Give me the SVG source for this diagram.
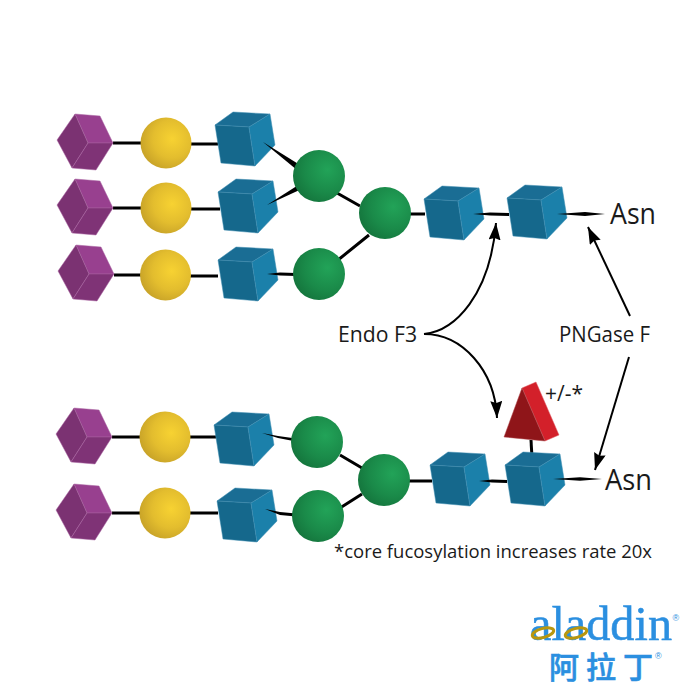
<svg xmlns="http://www.w3.org/2000/svg" width="700" height="700" viewBox="0 0 700 700">
<style>
.t{font-family:"Open Sans","Noto Sans","Liberation Sans",sans-serif;fill:#1a1a1a}
.bond{stroke:#000;stroke-width:3;fill:none}
.taper{fill:#000;stroke:none}
.arr{stroke:#000;stroke-width:2;fill:none;marker-end:url(#head)}
.edge{stroke-width:.5;stroke-linejoin:round}
</style>
<defs>
<marker id="head" markerUnits="userSpaceOnUse" markerWidth="20" markerHeight="14" refX="17" refY="6" orient="auto"><path d="M0 0L17 6L0 12L2 6Z" fill="#000"/></marker>
<radialGradient id="gold" cx=".62" cy=".42" r=".68"><stop offset="0" stop-color="#f7d232"/><stop offset=".55" stop-color="#e3bd2e"/><stop offset="1" stop-color="#c49f27"/></radialGradient>
<radialGradient id="green" cx=".66" cy=".38" r=".72"><stop offset="0" stop-color="#22a358"/><stop offset=".6" stop-color="#1a8a49"/><stop offset="1" stop-color="#14743c"/></radialGradient>
<g id="hex" class="edge">
<path d="M-13-29L12-27L25 0L0 0Z" fill="#98408f" stroke="#a862a0"/>
<path d="M-13-29L0 0L-16 25L-31-3Z" fill="#7b3272" stroke="#a862a0"/>
<path d="M0 0L25 0L8 27L-16 25Z" fill="#7f3376" stroke="#a862a0"/>
</g>
<g id="cube" class="edge">
<path d="M-34-2L-16-15L21-13L0 0Z" fill="#1a6d94" stroke="#3f8db0"/>
<path d="M-34-2L0 0L6 39L-28 36Z" fill="#15688c" stroke="#3f8db0"/>
<path d="M0 0L21-13L26 18L6 39Z" fill="#1b80aa" stroke="#3f8db0"/>
</g>
<circle id="gal" r="25.500" fill="url(#gold)"/>
<circle id="man" r="26" fill="url(#green)"/>
</defs>

<g id="connectors">
<path class="bond" d="M113 143H141M113 208H141M114 275H141M112 437H140M112 513H140"/>
<path class="bond" d="M188 144H218M188 209H220M188 276H218M188 437H216M188 513H218"/>
<path class="bond" d="M337 193L360 206M338 260L369 235M340 455L362 468M340 508L362 494"/>
<path class="bond" d="M408 214H425M407 481H432"/>
<path class="bond" d="M531 440L532 458"/>
</g>

<g id="nodes">
<g id="hex1"><use href="#hex" x="88" y="143"/></g>
<g id="hex2"><use href="#hex" x="88" y="208"/></g>
<g id="hex3"><use href="#hex" x="89" y="274"/></g>
<g id="hex4"><use href="#hex" x="87" y="437"/></g>
<g id="hex5"><use href="#hex" x="87" y="513"/></g>
<g id="gal1"><use href="#gal" x="166" y="143"/></g>
<g id="gal2"><use href="#gal" x="166" y="208"/></g>
<g id="gal3"><use href="#gal" x="165.500" y="275"/></g>
<g id="gal4"><use href="#gal" x="165" y="437"/></g>
<g id="gal5"><use href="#gal" x="165" y="513"/></g>
<g id="cube1"><use href="#cube" x="249" y="127"/></g>
<g id="cube2"><use href="#cube" x="252" y="194"/></g>
<g id="cube3"><use href="#cube" x="252" y="262"/></g>
<g id="cube4"><use href="#cube" x="248" y="427"/></g>
<g id="cube5"><use href="#cube" x="251" y="503"/></g>
<g id="cube6"><use href="#cube" x="458" y="201"/></g>
<g id="cube7"><use href="#cube" x="541" y="200"/></g>
<g id="cube8"><use href="#cube" x="464" y="467"/></g>
<g id="cube9"><use href="#cube" x="539" y="467"/></g>
<g id="fuc" class="edge">
<path d="M522 388L536 382L559 435L545 441Z" fill="#d3202a" stroke="#e06068"/>
<path d="M522 388L545 441L504 437Z" fill="#8f1519" stroke="#b04a4e"/>
</g>
</g>

<g id="connectors-over">
<path class="taper" d="M263 142L300 165L297 170Z"/>
<path class="taper" d="M267 205L306 187L303 182Z"/>
<path class="taper" d="M267 274L280 272.500L296 273V276L280 275.500Z"/>
<path class="taper" d="M262 433L278 436L296 438.500V441.500L278 438Z"/>
<path class="taper" d="M265 509L280 512L296 513.500V516.500L280 515Z"/>
<path class="taper" d="M473 214L490 212.500L509 213V216L490 215.500Z"/>
<path class="taper" d="M557 214L585 212L605 214L585 216Z"/>
<path class="taper" d="M479 481L492 479.500L507 480V483L492 482.500Z"/>
<path class="taper" d="M553 479L580 477.300L602 479L580 480.700Z"/>
<path class="arr" d="M424 334C455 331 490 295 496 223"/>
<path class="arr" d="M424 334C462 334 495 370 497 418"/>
<path class="arr" d="M630 316L588 227"/>
<path class="arr" d="M629 357L595 470"/>
</g>

<g id="nodes-mannose">
<g id="man1"><use href="#man" x="319" y="176"/></g>
<g id="man2"><use href="#man" x="319" y="274"/></g>
<g id="man3"><use href="#man" x="385" y="213"/></g>
<g id="man4"><use href="#man" x="317" y="442"/></g>
<g id="man5"><use href="#man" x="318" y="516"/></g>
<g id="man6"><use href="#man" x="384" y="480"/></g>
</g>

<g id="labels">
<text id="asn1" class="t" x="610" y="224" font-size="29" textLength="46" lengthAdjust="spacingAndGlyphs">Asn</text>
<text id="asn2" class="t" x="605" y="490" font-size="29" textLength="47" lengthAdjust="spacingAndGlyphs">Asn</text>
<text id="endo" class="t" x="338" y="342" font-size="21" textLength="79" lengthAdjust="spacingAndGlyphs">Endo F3</text>
<text id="png" class="t" x="559" y="342" font-size="21" textLength="91" lengthAdjust="spacingAndGlyphs">PNGase F</text>
<text id="pm" class="t" x="545" y="401" font-size="21" textLength="38" lengthAdjust="spacingAndGlyphs">+/-*</text>
<text id="note" class="t" x="334" y="558" font-size="18.500" textLength="318" lengthAdjust="spacingAndGlyphs">*core fucosylation increases rate 20x</text>
</g>

<g id="logo">
<text x="530" y="640" font-family="'Liberation Serif',serif" font-size="48" fill="#2b8fe0" stroke="#2b8fe0" stroke-width=".5" textLength="142" lengthAdjust="spacingAndGlyphs">aladdin</text>
<ellipse cx="543" cy="633" rx="11" ry="4.500" transform="rotate(-15 543 633)" fill="none" stroke="#b8970f" stroke-width="3"/>
<ellipse cx="576" cy="633" rx="11" ry="4.500" transform="rotate(-15 576 633)" fill="none" stroke="#b8970f" stroke-width="3"/>
<text x="549 586 623" y="678" font-family="'Noto Sans CJK SC','Noto Sans CJK JP',sans-serif" font-size="30" font-weight="500" fill="#2b8fe0" stroke="#2b8fe0" stroke-width=".6">阿拉丁</text>
<text x="672.500" y="621" font-family="'Liberation Sans',sans-serif" font-size="9" fill="#2b8fe0">®</text>
<text x="655" y="659" font-family="'Liberation Sans',sans-serif" font-size="9" fill="#2b8fe0">®</text>
</g>
</svg>
